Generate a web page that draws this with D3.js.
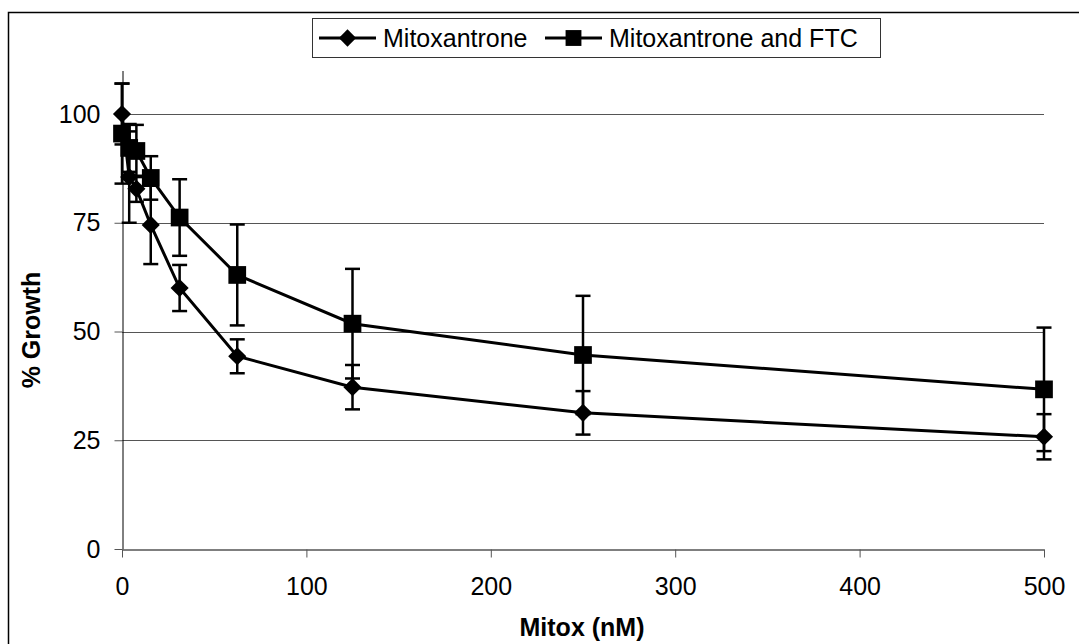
<!DOCTYPE html>
<html>
<head>
<meta charset="utf-8">
<script src="https://cdn.jsdelivr.net/npm/d3@7"></script>
<style>
  body { margin: 0; background: #fff; }
  svg { display: block; font-family: "Liberation Sans", Arial, sans-serif; }
</style>
</head>
<body>
<svg id="chart" width="1079" height="644"></svg>
<script>
// mitoxantrone concentrations (nM), doubling series
const dose = [0, 3.9, 7.8, 15.6, 31.25, 62.5, 125, 250, 500];

// % growth, mitoxantrone alone (diamonds)
const mitoGrowth = [100, 85.5, 82.8, 74.5, 60, 44.3, 37.2, 31.3, 25.8];
const mitoErr    = [7, 10.5, 3, 9, 5.3, 3.9, 5.1, 5, 5.2];

// % growth, mitoxantrone + FTC (squares)
const ftcGrowth = [95.5, 92.2, 91.5, 85.3, 76.2, 63, 51.8, 44.6, 36.7];
const ftcErr    = [11.5, 5.5, 6, 5, 8.8, 11.6, 12.6, 13.6, 14.2];

const xTicks = [0, 100, 200, 300, 400, 500];
const yTicks = [0, 25, 50, 75, 100];
const seriesNames = ["Mitoxantrone", "Mitoxantrone and FTC"];

const svg = d3.select("#chart");

const x = d3.scaleLinear().domain([0, 500]).range([122, 1044]);
const y = d3.scaleLinear().domain([0, 110]).range([549, 70.5]);

// outer chart frame (runs off the right and bottom edges)
svg.append("rect")
  .attr("x", 8.5).attr("y", 12.5)
  .attr("width", 1090).attr("height", 660)
  .attr("fill", "none").attr("stroke", "#000").attr("stroke-width", 1.5);

// gridlines
svg.append("g").selectAll("line")
  .data(yTicks.filter(d => d > 0))
  .enter().append("line")
    .attr("x1", x(0)).attr("x2", x(500))
    .attr("y1", d => Math.round(y(d)) + 0.5).attr("y2", d => Math.round(y(d)) + 0.5)
    .attr("stroke", "#555").attr("stroke-width", 1);

// y axis
const yAxis = svg.append("g")
  .attr("transform", `translate(${x(0) + 0.5},0)`)
  .call(d3.axisLeft(y).tickValues(yTicks).tickSize(8).tickPadding(14).tickSizeOuter(0));
yAxis.select(".domain").attr("stroke", "#000");
yAxis.selectAll(".tick line").attr("stroke", "#555");
yAxis.selectAll("text").attr("font-size", 25).attr("fill", "#000")
  .attr("font-family", "Liberation Sans, Arial, sans-serif");

// x axis
const xAxis = svg.append("g")
  .attr("transform", `translate(0,${Math.round(y(0)) + 0.5})`)
  .call(d3.axisBottom(x).tickValues(xTicks).tickSize(8).tickPadding(20).tickSizeOuter(0));
xAxis.select(".domain").attr("stroke", "#555").attr("stroke-width", 1.5);
xAxis.selectAll(".tick line").attr("stroke", "#555");
xAxis.selectAll("text").attr("font-size", 25).attr("fill", "#000")
  .attr("font-family", "Liberation Sans, Arial, sans-serif");

// axis titles
svg.append("text")
  .attr("x", 582).attr("y", 636)
  .attr("text-anchor", "middle")
  .attr("font-size", 25).attr("font-weight", "bold")
  .text("Mitox (nM)");

svg.append("text")
  .attr("transform", "translate(40,330) rotate(-90)")
  .attr("text-anchor", "middle")
  .attr("font-size", 25).attr("font-weight", "bold")
  .text("% Growth");

const diamond = d3.symbol().type(d3.symbolDiamond2);
const square = d3.symbol().type(d3.symbolSquare2);

function drawSeries(vals, errs, sym, size) {
  const pts = dose.map((d, i) => ({ d: d, v: vals[i], e: errs[i] }));
  const g = svg.append("g");

  // error bars
  const eb = g.selectAll(".eb").data(pts).enter().append("g");
  eb.append("line")
    .attr("x1", p => x(p.d)).attr("x2", p => x(p.d))
    .attr("y1", p => y(p.v + p.e)).attr("y2", p => y(p.v - p.e))
    .attr("stroke", "#000").attr("stroke-width", 2.5);
  eb.selectAll(".cap").data(p => [[p.d, p.v + p.e], [p.d, p.v - p.e]])
    .enter().append("line")
      .attr("x1", c => x(c[0]) - 7.5).attr("x2", c => x(c[0]) + 7.5)
      .attr("y1", c => y(c[1])).attr("y2", c => y(c[1]))
      .attr("stroke", "#000").attr("stroke-width", 2.5);

  g.append("path")
    .datum(pts)
    .attr("d", d3.line().x(p => x(p.d)).y(p => y(p.v)))
    .attr("fill", "none").attr("stroke", "#000").attr("stroke-width", 3);

  g.selectAll(".m").data(pts).enter().append("path")
    .attr("transform", p => `translate(${x(p.d)},${y(p.v)})`)
    .attr("d", sym.size(size))
    .attr("fill", "#000");
}

drawSeries(mitoGrowth, mitoErr, diamond, 210);
drawSeries(ftcGrowth, ftcErr, square, 400);

// legend
const lg = svg.append("g");
lg.append("rect")
  .attr("x", 312.5).attr("y", 18.5).attr("width", 568).attr("height", 39)
  .attr("fill", "#fff").attr("stroke", "#333").attr("stroke-width", 1);

const legendItems = [
  { name: seriesNames[0], sym: diamond, size: 190, x0: 319 },
  { name: seriesNames[1], sym: square, size: 320, x0: 545 }
];
legendItems.forEach(it => {
  lg.append("line")
    .attr("x1", it.x0).attr("x2", it.x0 + 57)
    .attr("y1", 38).attr("y2", 38)
    .attr("stroke", "#000").attr("stroke-width", 3);
  lg.append("path")
    .attr("transform", `translate(${it.x0 + 28.5},38)`)
    .attr("d", it.sym.size(it.size))
    .attr("fill", "#000");
  lg.append("text")
    .attr("x", it.x0 + 64).attr("y", 47)
    .attr("font-size", 25)
    .text(it.name);
});
</script>
</body>
</html>
